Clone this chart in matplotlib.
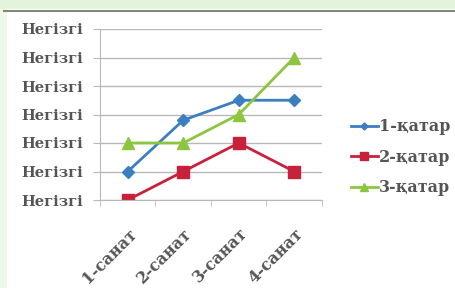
import matplotlib
matplotlib.use('Agg')
from matplotlib import pyplot as plt
from matplotlib.patches import Rectangle
from matplotlib.lines import Line2D
from matplotlib.transforms import ScaledTranslation

# data
categories = ['1-санат', '2-санат', '3-санат', '4-санат']
series_names = ['1-қатар', '2-қатар', '3-қатар']
s1 = [1, 2.8, 3.5, 3.5]
s2 = [0, 1, 2, 1]
s3 = [2, 2, 3, 5]
ytick_labels = ['Негізгі'] * 7

plt.rcParams['font.family'] = ['DejaVu Serif']
plt.rcParams['font.weight'] = 'bold'
txt_color = '#555555'

fig = plt.figure(figsize=(4.56, 2.88), dpi=100)
fig.patch.set_facecolor('white')

# light green frame bits on top and left
fig.patches.append(Rectangle((0, 1 - 9/288), 1, 9/288, transform=fig.transFigure,
                             facecolor='#e4f3dc', edgecolor='none', zorder=0))
fig.patches.append(Rectangle((0, 0), 7/456, 1 - 9/288, transform=fig.transFigure,
                             facecolor='#eef8e8', edgecolor='none', zorder=0))
fig.lines.append(Line2D([4/456, 1], [1 - 10.5/288, 1 - 10.5/288], transform=fig.transFigure,
                        color='#7d8a7a', lw=1.5))

ax = fig.add_axes([100/456, 88/288, 222/456, 171/288])

x = list(range(len(categories)))
ax.plot(x, s1, color='#3c7fc0', marker='D', markersize=6, lw=2, label=series_names[0])
ax.plot(x, s2, color='#c8213c', marker='s', markersize=9, lw=2, label=series_names[1])
ax.plot(x, s3, color='#8cc63f', marker='^', markersize=9, lw=2, label=series_names[2])

ax.set_xlim(-0.5, 3.5)
ax.set_ylim(0, 6)
ax.set_yticks(range(7))
ax.set_yticklabels(ytick_labels, fontsize=10.5, color=txt_color)
ax.yaxis.grid(True, color='#b8b8b8', lw=1)
ax.set_axisbelow(True)

ax.set_xticks(x)
ax.set_xticklabels(categories, rotation=45, ha='right', rotation_mode='anchor',
                   fontsize=11.5, color=txt_color)
shift = ScaledTranslation(-5/100, 0, fig.dpi_scale_trans)
for lab in ax.get_xticklabels():
    lab.set_transform(lab.get_transform() + shift)
ax.set_xticks([i - 0.5 for i in range(len(categories) + 1)], minor=True)
ax.tick_params(axis='x', which='major', length=0, pad=18)
ax.tick_params(axis='x', which='minor', length=4, color='#b8b8b8')
ax.tick_params(axis='y', length=5, color='#b8b8b8', pad=7)

for side in ['top', 'right']:
    ax.spines[side].set_visible(False)
for side in ['left', 'bottom']:
    ax.spines[side].set_color('#b8b8b8')

ax.legend(loc='center left', bbox_to_anchor=(1.1, 0.25), frameon=False,
          fontsize=11.5, handlelength=1.7, handletextpad=0.1, labelspacing=0.85,
          markerscale=0.6, borderaxespad=0, labelcolor=txt_color)

fig.savefig('out.png', dpi=100)
